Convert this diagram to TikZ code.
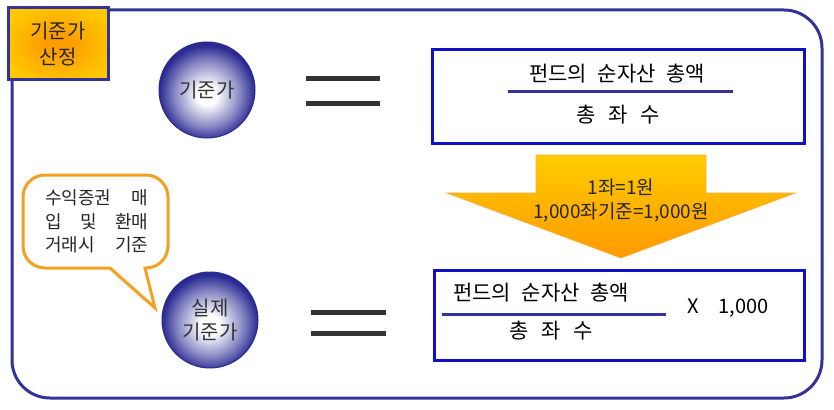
\documentclass[tikz,border=0pt]{standalone}
\usepackage{fontspec}
\setmainfont{Noto Sans CJK KR}
\definecolor{navy}{HTML}{333399}
\definecolor{boxblue}{HTML}{1010C8}
\definecolor{ballblue}{HTML}{2A2A92}
\definecolor{ballmid}{HTML}{8888C4}
\definecolor{barg}{HTML}{333333}
\definecolor{bubor}{HTML}{F5A020}
\definecolor{arrtop}{HTML}{FFCC00}
\definecolor{arrbot}{HTML}{FF9900}
\definecolor{lblin}{HTML}{FF9C00}
\definecolor{lblout}{HTML}{FFC800}
\pgfdeclareradialshading{ballshade}{\pgfpoint{0bp}{-3bp}}{color(0bp)=(white); color(5bp)=(white); color(17bp)=(ballmid); color(25bp)=(ballblue); color(50bp)=(ballblue)}
\pgfdeclareradialshading{lblshade}{\pgfpoint{0bp}{0bp}}{color(0bp)=(lblin); color(6bp)=(lblin); color(28bp)=(lblout); color(50bp)=(lblout)}
\tikzset{
  outerframe/.style={draw=navy, line width=3pt, rounded corners=38pt},
  labelbox/.style={draw=navy, line width=3pt, shading=lblshade, minimum width=100pt, minimum height=72pt, align=center, font=\fontsize{20}{26}\selectfont, text=black!85},
  ballnode/.style={circle, draw=ballblue, line width=1pt, shading=ballshade, minimum size=96pt, inner sep=0pt, align=center, font=\fontsize{20}{24}\selectfont, text=black!80},
  bar/.style={draw=barg, line width=5pt},
  bluebox/.style={draw=boxblue, line width=3pt},
  fracline/.style={draw=navy, line width=3pt},
  txt/.style={font=\fontsize{21}{25}\selectfont, inner sep=0pt},
  arrtxt/.style={font=\fontsize{19}{23}\selectfont, inner sep=0pt, text=black!85},
  bigarrow/.style={draw=arrbot!80, line width=0.8pt, top color=arrtop, bottom color=arrbot},
  bubble/.style={draw=bubor, line width=3pt, fill=white},
  bubtxt/.style={font=\fontsize{18}{22}\selectfont, inner sep=0pt, text=black!85}
}
\begin{document}
\begin{tikzpicture}[x=1pt,y=-1pt]
\useasboundingbox (0,0) rectangle (834,409);
\fill[white] (0,0) rectangle (834,409);
% outer frame
\draw[outerframe] (12,10) rectangle (822,398);
% label box
\node[labelbox] (lab) at (58,44) {기준가\\산정};
% top circle and equal sign
\node[ballnode] (c1) at (207,90) {기준가};
\draw[bar] (306,79) -- (380,79);
\draw[bar] (306,104) -- (380,104);
% top formula box
\node[bluebox, minimum width=372pt, minimum height=93pt] (b1) at (618,96.5) {};
\node[txt] (n1) at (617,74) {펀드의\hspace{0.5em}순자산\hspace{0.5em}총액};
\coordinate (f1a) at (508,92);
\coordinate (f1b) at (733,92);
\draw[fracline] (f1a) -- (f1b);
\node[txt] (d1) at (618,115) {총\hspace{0.6em}좌\hspace{0.6em}수};
% big arrow
\draw[bigarrow] (536,155) -- (706,155) -- (706,193) -- (795,193) -- (621,258) -- (447,193) -- (536,193) -- cycle;
\node[arrtxt] (a1) at (621,187) {1좌=1원};
\node[arrtxt] (a2) at (621,212) {1,000좌기준=1,000원};
% bottom formula box
\node[bluebox, minimum width=370pt, minimum height=90pt] (b2) at (619,315) {};
\node[txt] (n2) at (541,293) {펀드의\hspace{0.5em}순자산\hspace{0.5em}총액};
\coordinate (f2a) at (442,314);
\coordinate (f2b) at (666,314);
\draw[fracline] (f2a) -- (f2b);
\node[txt] (d2) at (551,331) {총\hspace{0.6em}좌\hspace{0.6em}수};
\node[txt, font=\fontsize{20}{24}\selectfont] (m2) at (728,308) {X\hspace{1em}1,000};
% bottom circle and equal sign
\node[ballnode] (c2) at (210,320) {실제\\기준가};
\draw[bar] (311,312) -- (386,312);
\draw[bar] (311,333) -- (386,333);
% speech bubble
\draw[bubble] (110,268) [rounded corners=22pt] -- (23,268) -- (23,175) -- (168,175) -- (168,268) [sharp corners] -- (145,268) -- (155,308) -- cycle;
\node[bubtxt, anchor=west] (s1) at (45,198) {\makebox[103pt][s]{수익증권 매}};
\node[bubtxt, anchor=west] (s2) at (45,222) {\makebox[103pt][s]{입 및 환매}};
\node[bubtxt, anchor=west] (s3) at (45,245) {\makebox[103pt][s]{거래시 기준}};
\end{tikzpicture}
\end{document}
